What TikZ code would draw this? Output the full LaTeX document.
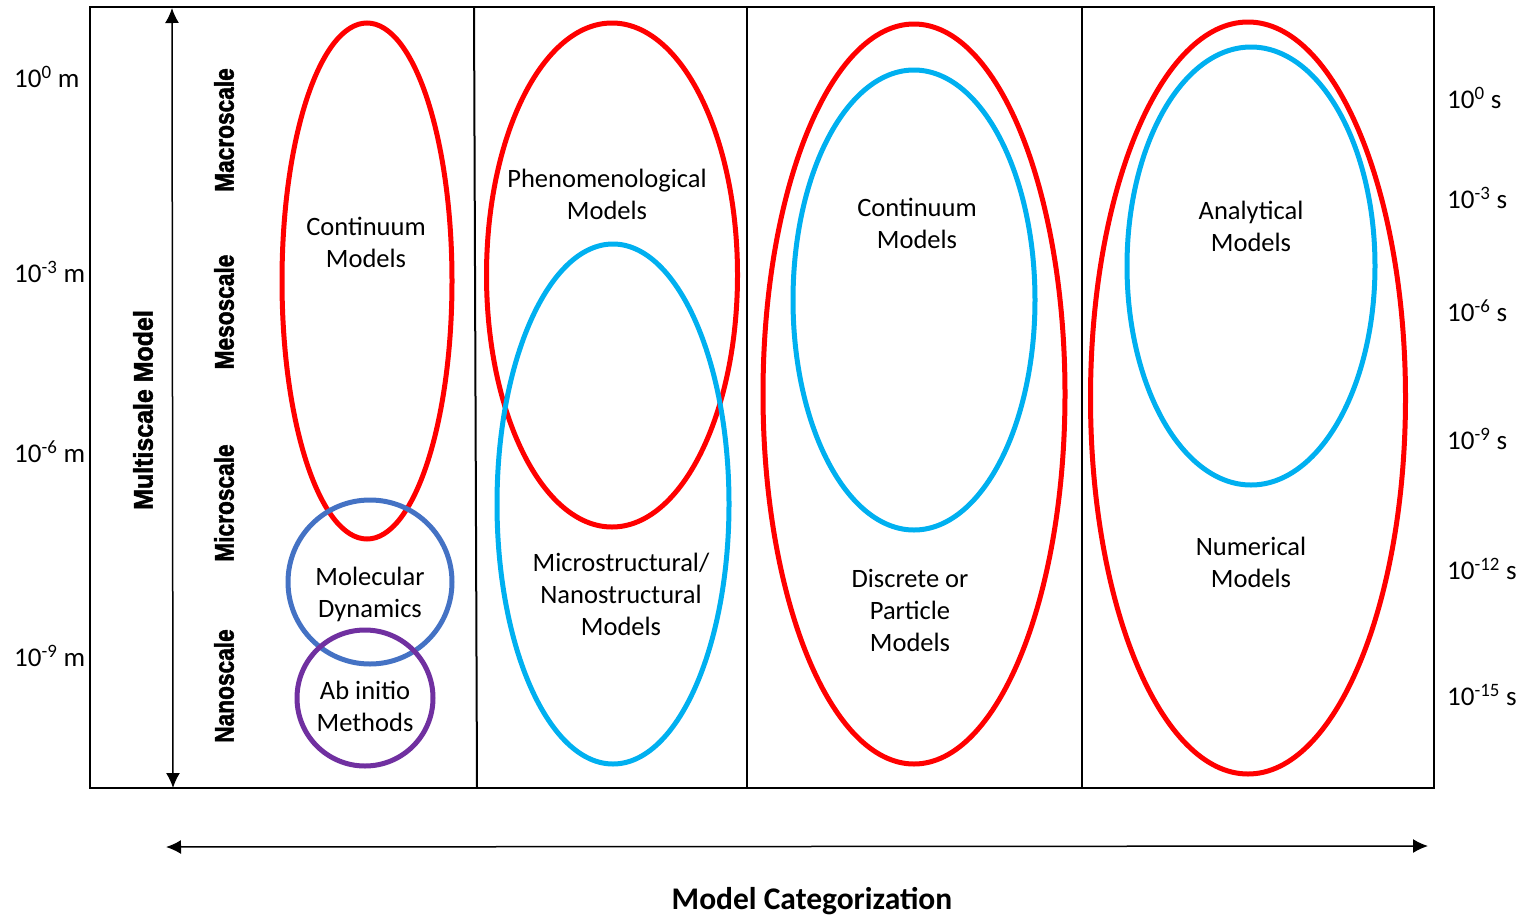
\documentclass[tikz,border=0pt]{standalone}
\usepackage{fontspec}
\setmainfont{Carlito}
\newfontfamily\scalefont[FakeBold=2]{Liberation Sans Bold}
\usetikzlibrary{arrows.meta}
\definecolor{redc}{HTML}{FF0000}
\definecolor{bluec}{HTML}{00B0F0}
\definecolor{mdblue}{HTML}{4472C4}
\definecolor{purplec}{HTML}{7030A0}
\begin{document}
\begin{tikzpicture}[x=1pt,y=-1pt,
  ring/.style={line width=5pt},
  frame/.style={line width=2pt,draw=black},
  axisarrow/.style={line width=1.5pt,{Latex[length=15pt,width=14pt]}-{Latex[length=15pt,width=14pt]}},
  lbl/.style={font=\fontsize{26.5}{32}\selectfont,align=center,inner sep=0pt},
  tick/.style={font=\fontsize{27}{30}\selectfont,anchor=west,inner sep=0pt},
  scalelbl/.style={font=\scalefont\fontsize{27}{30}\selectfont,rotate=90,xscale=0.84,inner sep=0pt},
  title/.style={font=\bfseries\fontsize{31.5}{36}\selectfont,inner sep=0pt}]
\useasboundingbox (0,0) rectangle (1521,916);
% frame
\draw[frame] (90,7) rectangle (1434,788);
\coordinate (d1t) at (474,7); \coordinate (d1b) at (477,788);
\coordinate (d2t) at (747,7); \coordinate (d2b) at (747,788);
\coordinate (d3t) at (1082,7); \coordinate (d3b) at (1082,788);
\draw[frame] (d1t) -- (d1b);
\draw[frame] (d2t) -- (d2b);
\draw[frame] (d3t) -- (d3b);
% axes
\coordinate (vtop) at (172,8); \coordinate (vbot) at (173,788);
\draw[axisarrow] (vtop) -- (vbot);
\coordinate (hl) at (166,847); \coordinate (hr) at (1428,846);
\draw[axisarrow] (hl) -- (hr);
% column 1
\draw[ring,redc] (367,281) ellipse [x radius=85,y radius=258];
\draw[ring,mdblue] (370,582) circle [radius=82];
\draw[ring,purplec] (365,698) circle [radius=68];
% column 2
\draw[ring,redc] (612,275) ellipse [x radius=125.5,y radius=252];
\draw[ring,bluec] (613,504) ellipse [x radius=116,y radius=260];
% column 3
\draw[ring,redc] (914,394) ellipse [x radius=151,y radius=370];
\draw[ring,bluec] (914,300) ellipse [x radius=121,y radius=230];
% column 4
\draw[ring,redc] (1248,398) ellipse [x radius=157.5,y radius=376];
\draw[ring,bluec] (1251,266) ellipse [x radius=124,y radius=219];
% texts
\node[lbl] (cm1) at (366,242) {Continuum\\Models};
\node[lbl] (md) at (370,594) {Molecular\\Dynamics};
\node[lbl] (ab) at (365,706) {Ab initio\\Methods};
\node[lbl] (ph) at (607,194) {Phenomenological\\Models};
\node[lbl] (mn) at (621,594) {Microstructural/\\Nanostructural\\Models};
\node[lbl] (cm3) at (917,223) {Continuum\\Models};
\node[lbl] (dp) at (910,610) {Discrete or\\Particle\\Models};
\node[lbl] (an) at (1251,226) {Analytical\\Models};
\node[lbl] (nu) at (1251,562) {Numerical\\Models};
% left ticks
\node[tick] (m0) at (14,77) {10\textsuperscript{0} m};
\node[tick] (m3) at (14,272) {10\textsuperscript{-3} m};
\node[tick] (m6) at (14,452) {10\textsuperscript{-6} m};
\node[tick] (m9) at (14,656) {10\textsuperscript{-9} m};
% right ticks
\node[tick] (s0) at (1447,98) {10\textsuperscript{0} s};
\node[tick] (s3) at (1447,198) {10\textsuperscript{-3} s};
\node[tick] (s6) at (1447,311) {10\textsuperscript{-6} s};
\node[tick] (s9) at (1447,439) {10\textsuperscript{-9} s};
\node[tick] (s12) at (1447,569) {10\textsuperscript{-12} s};
\node[tick] (s15) at (1447,695) {10\textsuperscript{-15} s};
% rotated scale labels
\node[scalelbl] (mac) at (224,130) {Macroscale};
\node[scalelbl] (mes) at (224,312) {Mesoscale};
\node[scalelbl] (mic) at (224,503) {Microscale};
\node[scalelbl] (nan) at (224,686) {Nanoscale};
\node[scalelbl,xscale=1.1] (msm) at (143,410) {Multiscale Model};
\node[title] (mc) at (812,901) {Model Categorization};
\end{tikzpicture}
\end{document}
